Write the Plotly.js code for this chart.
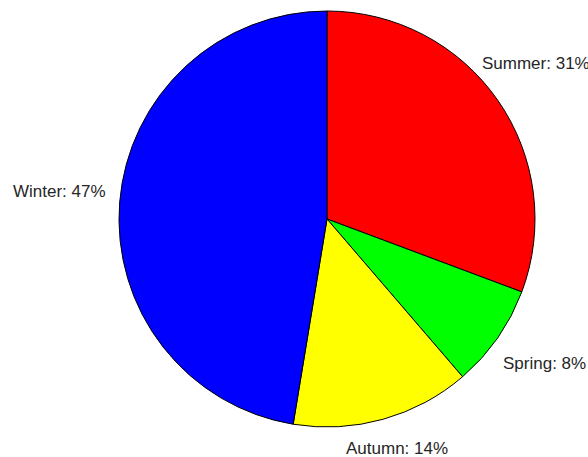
<!DOCTYPE html>
<html>
<head>
<meta charset="utf-8">
<script src="https://cdn.plot.ly/plotly-3.0.1.min.js"></script>
<style>html,body{margin:0;padding:0;background:#fff;}#chart{width:588px;height:457px;}</style>
</head>
<body>
<div id="chart"></div>
<script>
const seasons = ["Summer", "Spring", "Autumn", "Winter"];
const shares = [30.7, 8.0, 13.9, 47.4];
const sliceColors = ["#ff0000", "#00ff00", "#ffff00", "#0000ff"];

const total = shares.reduce((a, b) => a + b, 0);
const labelText = seasons.map((s, i) => s + ": " + Math.round(100 * shares[i] / total) + "%");

// label placement (paper coords) for each slice label
const labelPos = [
  {x: 480/588, y: 1 - 63/457, xanchor: "left"},
  {x: 501/588, y: 1 - 363.5/457, xanchor: "left"},
  {x: 344/588, y: 1 - 448.5/457, xanchor: "left"},
  {x: 108/588, y: 1 - 191/457, xanchor: "right"}
];

const trace = {
  type: "pie",
  labels: seasons,
  values: shares,
  sort: false,
  direction: "clockwise",
  rotation: 0,
  textinfo: "none",
  hoverinfo: "none",
  showlegend: false,
  marker: {colors: sliceColors, line: {color: "#000000", width: 1}},
  domain: {x: [119/588, 535/588], y: [1 - 427/457, 1 - 11/457]}
};

const layout = {
  width: 588,
  height: 457,
  margin: {l: 0, r: 0, t: 0, b: 0},
  paper_bgcolor: "#ffffff",
  showlegend: false,
  font: {family: "Liberation Sans, Arial, sans-serif", size: 17, color: "#262626"},
  annotations: labelText.map((t, i) => ({
    text: t,
    xref: "paper", yref: "paper",
    x: labelPos[i].x, y: labelPos[i].y,
    xanchor: labelPos[i].xanchor, yanchor: "middle",
    showarrow: false,
    font: {family: "Liberation Sans, Arial, sans-serif", size: 17, color: "#262626"}
  }))
};

Plotly.newPlot("chart", [trace], layout, {displayModeBar: false, staticPlot: true});
</script>
</body>
</html>
